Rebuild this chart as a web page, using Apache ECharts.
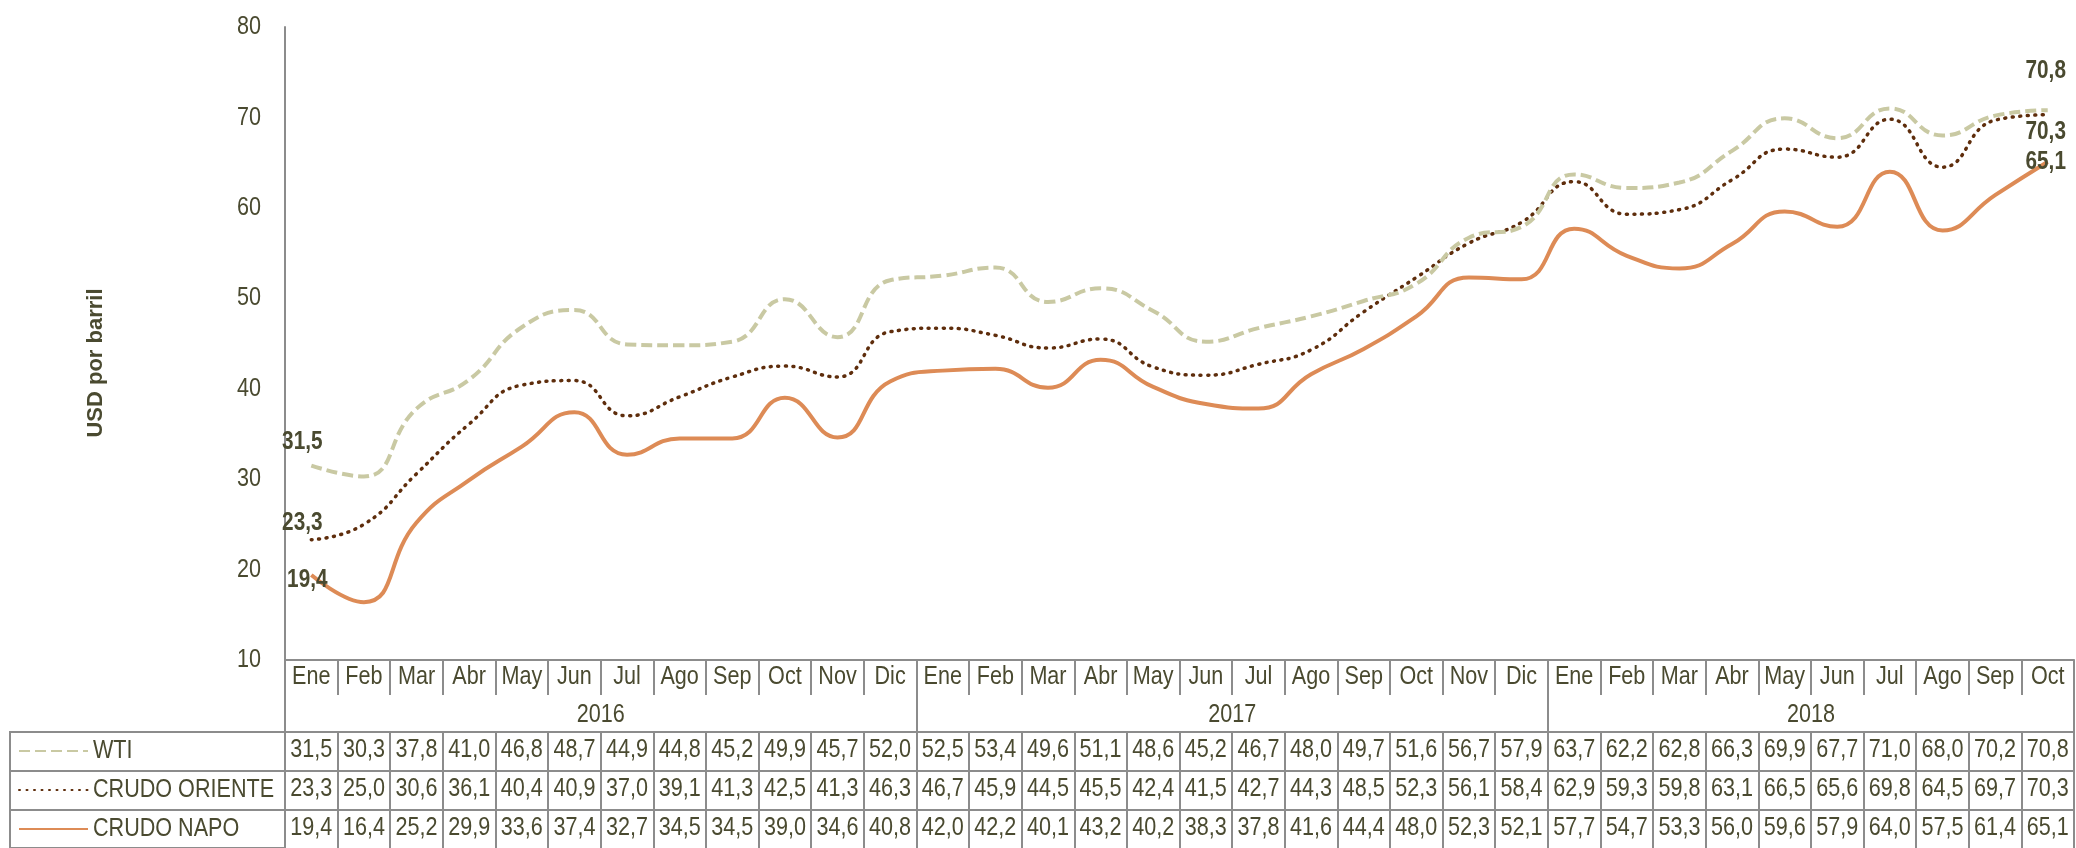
<!DOCTYPE html>
<html>
<head>
<meta charset="utf-8">
<script src="https://cdn.jsdelivr.net/npm/echarts@6/dist/echarts.min.js"></script>
<style>
html,body{margin:0;padding:0;background:#fff;}
#c{width:2076px;height:848px;}
</style>
</head>
<body>
<div id="c"></div>
<script>
const months = ['Ene','Feb','Mar','Abr','May','Jun','Jul','Ago','Sep','Oct','Nov','Dic',
                'Ene','Feb','Mar','Abr','May','Jun','Jul','Ago','Sep','Oct','Nov','Dic',
                'Ene','Feb','Mar','Abr','May','Jun','Jul','Ago','Sep','Oct'];
const years = ['2016','2017','2018'];
const monthsPerYear = [12, 12, 10];
const seriesNames = ['WTI','CRUDO ORIENTE','CRUDO NAPO'];
const wti = [31.5,30.3,37.8,41.0,46.8,48.7,44.9,44.8,45.2,49.9,45.7,52.0,
             52.5,53.4,49.6,51.1,48.6,45.2,46.7,48.0,49.7,51.6,56.7,57.9,
             63.7,62.2,62.8,66.3,69.9,67.7,71.0,68.0,70.2,70.8];
const oriente = [23.3,25.0,30.6,36.1,40.4,40.9,37.0,39.1,41.3,42.5,41.3,46.3,
                 46.7,45.9,44.5,45.5,42.4,41.5,42.7,44.3,48.5,52.3,56.1,58.4,
                 62.9,59.3,59.8,63.1,66.5,65.6,69.8,64.5,69.7,70.3];
const napo = [19.4,16.4,25.2,29.9,33.6,37.4,32.7,34.5,34.5,39.0,34.6,40.8,
              42.0,42.2,40.1,43.2,40.2,38.3,37.8,41.6,44.4,48.0,52.3,52.1,
              57.7,54.7,53.3,56.0,59.6,57.9,64.0,57.5,61.4,65.1];
const yMin = 10, yMax = 80, yStep = 10;
const yTitle = 'USD por barril';

const TXT = '#4a4a30';
const BORDER = '#8c8c8c';
const FONT = "'Liberation Sans',Arial,sans-serif";
const FS = 26;          // narrow-style text: drawn at 26px, condensed horizontally
const NARROW = 0.83;
const fmt = v => v.toFixed(1).replace('.', ',');

const yearBounds = [0];
monthsPerYear.forEach(n => yearBounds.push(yearBounds[yearBounds.length - 1] + n));
const yearCenters = monthsPerYear.map((n, i) => yearBounds[i] + n / 2);

const allSeries = [wti, oriente, napo];
const labelOffsets = [
  {first: [-9, -23], last: [-2, -39]},
  {first: [-9, -17], last: [-2, 17]},
  {first: [-4, 5], last: [-2, 0]}
];
function buildData(vals, k) {
  const last = vals.length - 1;
  return vals.map((v, i) => {
    if (i === 0 || i === last) {
      return {value: v, label: {show: true, position: 'inside',
        offset: i === 0 ? labelOffsets[k].first : labelOffsets[k].last,
        formatter: p => fmt(p.value), color: TXT, fontFamily: FONT, fontWeight: 'bold', fontSize: 25}};
    }
    return v;
  });
}

const lineStyles = [
  {color: '#c9c9a3', width: 4, type: [11, 5]},
  {color: '#5e2d0c', width: 3.5, type: [1, 6.5], cap: 'round'},
  {color: '#dd8b56', width: 4, type: 'solid'}
];

function rowAxis(vals, offset) {
  return {
    type: 'category', gridIndex: 0, position: 'bottom', offset: offset,
    data: months, boundaryGap: true,
    axisLine: {show: true, lineStyle: {color: BORDER, width: 2}},
    axisTick: {show: true, interval: 0, length: 39, lineStyle: {color: BORDER, width: 2}},
    axisLabel: {show: true, interval: 0, margin: 5, color: TXT, fontFamily: FONT, fontSize: FS, lineHeight: 26,
      formatter: (val, idx) => fmt(vals[idx])},
    splitLine: {show: false}
  };
}

const chart = echarts.init(document.getElementById('c'), null, {renderer: 'canvas'});
chart.setOption({
  animation: false,
  backgroundColor: '#ffffff',
  grid: [
    {left: 285, right: 0, top: 27, bottom: 188},
    {left: 10, top: 732, width: 275, height: 119, show: true, borderColor: BORDER, borderWidth: 2, backgroundColor: 'transparent'}
  ],
  legend: {
    orient: 'vertical', left: 18, top: 738, padding: 0, itemGap: 13, itemWidth: 69, itemHeight: 14,
    data: seriesNames, selectedMode: false,
    itemStyle: {color: 'transparent', borderWidth: 0, opacity: 0},
    textStyle: {color: TXT, fontFamily: FONT, fontSize: FS, lineHeight: 26}
  },
  xAxis: [
    {
      type: 'category', gridIndex: 0, position: 'bottom', data: months, boundaryGap: true,
      axisLine: {show: true, lineStyle: {color: BORDER, width: 2}},
      axisTick: {show: true, interval: 0, length: 35, lineStyle: {color: BORDER, width: 2}},
      axisLabel: {interval: 0, margin: 4, color: TXT, fontFamily: FONT, fontSize: FS, lineHeight: 26},
      splitLine: {show: false}
    },
    {
      type: 'value', gridIndex: 0, position: 'bottom', min: 0, max: months.length,
      axisLine: {show: false},
      axisTick: {show: true, customValues: yearBounds, length: 72, lineStyle: {color: BORDER, width: 2}},
      axisLabel: {show: true, customValues: yearCenters, margin: 42, color: TXT, fontFamily: FONT, fontSize: FS, lineHeight: 26,
        formatter: v => { const i = yearCenters.indexOf(v); return i >= 0 ? years[i] : ''; }},
      splitLine: {show: false}
    },
    rowAxis(wti, 72),
    rowAxis(oriente, 111),
    rowAxis(napo, 150),
    {type: 'value', gridIndex: 1, show: false, min: 0, max: 1}
  ],
  yAxis: [
    {
      type: 'value', gridIndex: 0, min: yMin, max: yMax, interval: yStep,
      name: yTitle, nameLocation: 'middle', nameGap: 178, nameRotate: 90,
      nameTextStyle: {color: TXT, fontFamily: FONT, fontWeight: 'bold', fontSize: 22, padding: [0, 39, 0, 0]},
      axisLine: {show: true, lineStyle: {color: BORDER, width: 2}},
      axisTick: {show: false},
      axisLabel: {margin: 24, color: TXT, fontFamily: FONT, fontSize: FS},
      splitLine: {show: false}
    },
    {
      type: 'category', gridIndex: 1, data: seriesNames, inverse: true,
      axisLine: {show: false}, axisTick: {show: false}, axisLabel: {show: false},
      splitLine: {show: true, interval: 0, lineStyle: {color: BORDER, width: 2}}
    }
  ],
  series: allSeries.map((vals, k) => ({
    name: seriesNames[k], type: 'line', xAxisIndex: 0, yAxisIndex: 0,
    data: buildData(vals, k), smooth: 0.5,
    symbol: 'circle', symbolSize: 0, showSymbol: true, showAllSymbol: true,
    lineStyle: lineStyles[k], itemStyle: {color: lineStyles[k].color},
    z: 3 - k
  }))
});

// Condense text horizontally (the original uses a narrow typeface)
function condenseText() {
  const zr = chart.getZr();
  const list = zr.storage.getDisplayList(true);
  list.forEach(el => {
    if (el.type === 'tspan' && el.style && el.style.text != null && el.style.text !== yTitle) {
      el.originX = el.style.x || 0;
      el.originY = el.style.y || 0;
      el.scaleX = NARROW;
      el.scaleY = 1;
      el.markRedraw();
    }
  });
  zr.refreshImmediately();
}
condenseText();
chart.on('finished', condenseText);
setTimeout(condenseText, 50);
setTimeout(condenseText, 300);
</script>
</body>
</html>
